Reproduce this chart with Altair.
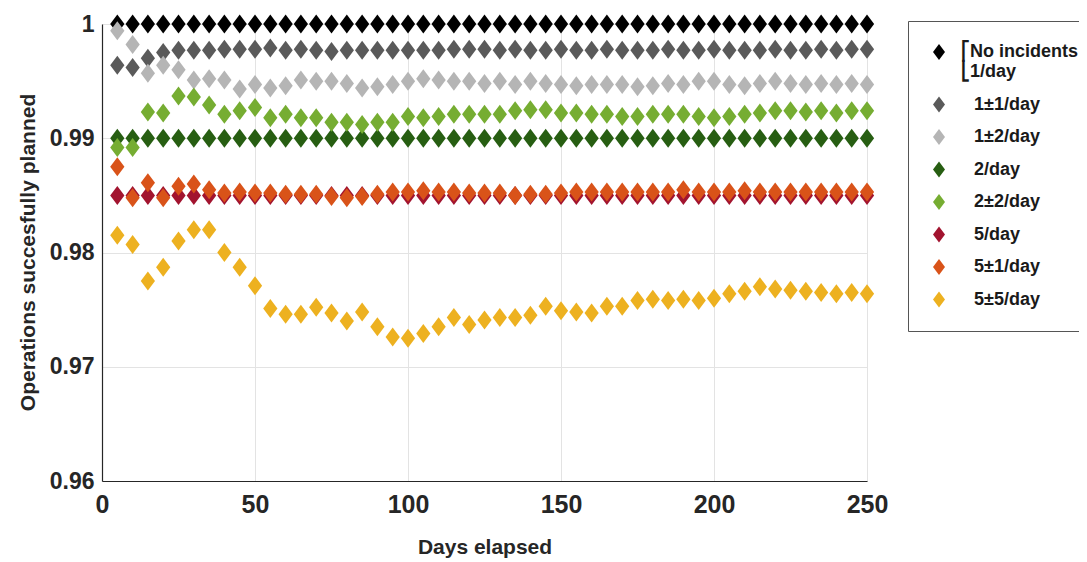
import altair as alt
import pandas as pd

# days elapsed (x) and the success ratio of each incident scenario (y)
days = [5, 10, 15, 20, 25, 30, 35, 40, 45, 50,
        55, 60, 65, 70, 75, 80, 85, 90, 95, 100,
        105, 110, 115, 120, 125, 130, 135, 140, 145, 150,
        155, 160, 165, 170, 175, 180, 185, 190, 195, 200,
        205, 210, 215, 220, 225, 230, 235, 240, 245, 250]

no_incidents = [1.0, 1.0, 1.0, 1.0, 1.0, 1.0, 1.0, 1.0, 1.0, 1.0,
                1.0, 1.0, 1.0, 1.0, 1.0, 1.0, 1.0, 1.0, 1.0, 1.0,
                1.0, 1.0, 1.0, 1.0, 1.0, 1.0, 1.0, 1.0, 1.0, 1.0,
                1.0, 1.0, 1.0, 1.0, 1.0, 1.0, 1.0, 1.0, 1.0, 1.0,
                1.0, 1.0, 1.0, 1.0, 1.0, 1.0, 1.0, 1.0, 1.0, 1.0]
one_pm_one = [0.9964, 0.9962, 0.9970, 0.9975, 0.9977, 0.9977, 0.9977, 0.9978, 0.9978, 0.9978,
              0.9979, 0.9977, 0.9978, 0.9977, 0.9976, 0.9977, 0.9977, 0.9977, 0.9977, 0.9977,
              0.9977, 0.9977, 0.9978, 0.9978, 0.9978, 0.9977, 0.9978, 0.9977, 0.9977, 0.9978,
              0.9977, 0.9977, 0.9978, 0.9977, 0.9977, 0.9977, 0.9978, 0.9977, 0.9977, 0.9978,
              0.9977, 0.9977, 0.9977, 0.9978, 0.9977, 0.9977, 0.9978, 0.9977, 0.9978, 0.9978]
one_pm_two = [0.9994, 0.9982, 0.9957, 0.9964, 0.9960, 0.9951, 0.9952, 0.9951, 0.9943, 0.9947,
              0.9944, 0.9946, 0.9951, 0.9950, 0.9950, 0.9948, 0.9944, 0.9945, 0.9947, 0.9950,
              0.9952, 0.9951, 0.9950, 0.9950, 0.9948, 0.9950, 0.9947, 0.9950, 0.9948, 0.9947,
              0.9946, 0.9947, 0.9947, 0.9947, 0.9945, 0.9946, 0.9948, 0.9947, 0.9950, 0.9950,
              0.9947, 0.9946, 0.9948, 0.9950, 0.9948, 0.9947, 0.9948, 0.9947, 0.9948, 0.9947]
two = [0.990, 0.990, 0.990, 0.990, 0.990, 0.990, 0.990, 0.990, 0.990, 0.990,
       0.990, 0.990, 0.990, 0.990, 0.990, 0.990, 0.990, 0.990, 0.990, 0.990,
       0.990, 0.990, 0.990, 0.990, 0.990, 0.990, 0.990, 0.990, 0.990, 0.990,
       0.990, 0.990, 0.990, 0.990, 0.990, 0.990, 0.990, 0.990, 0.990, 0.990,
       0.990, 0.990, 0.990, 0.990, 0.990, 0.990, 0.990, 0.990, 0.990, 0.990]
two_pm_two = [0.9892, 0.9892, 0.9923, 0.9922, 0.9937, 0.9936, 0.9929, 0.9921, 0.9924, 0.9927,
              0.9918, 0.9921, 0.9918, 0.9918, 0.9914, 0.9914, 0.9912, 0.9914, 0.9914, 0.9919,
              0.9918, 0.9919, 0.9921, 0.9921, 0.9921, 0.9921, 0.9924, 0.9925, 0.9925, 0.9922,
              0.9922, 0.9921, 0.9921, 0.9919, 0.9919, 0.9921, 0.9921, 0.9921, 0.9919, 0.9918,
              0.9919, 0.9921, 0.9922, 0.9924, 0.9924, 0.9923, 0.9924, 0.9922, 0.9924, 0.9924]
five = [0.985, 0.985, 0.985, 0.985, 0.985, 0.985, 0.985, 0.985, 0.985, 0.985,
        0.985, 0.985, 0.985, 0.985, 0.985, 0.985, 0.985, 0.985, 0.985, 0.985,
        0.985, 0.985, 0.985, 0.985, 0.985, 0.985, 0.985, 0.985, 0.985, 0.985,
        0.985, 0.985, 0.985, 0.985, 0.985, 0.985, 0.985, 0.985, 0.985, 0.985,
        0.985, 0.985, 0.985, 0.985, 0.985, 0.985, 0.985, 0.985, 0.985, 0.985]
five_pm_one = [0.9875, 0.9848, 0.9861, 0.9848, 0.9858, 0.9860, 0.9855, 0.9852, 0.9853, 0.9852,
               0.9852, 0.9851, 0.9851, 0.9851, 0.9849, 0.9848, 0.9849, 0.9851, 0.9853, 0.9853,
               0.9854, 0.9853, 0.9853, 0.9852, 0.9852, 0.9852, 0.9850, 0.9851, 0.9851, 0.9852,
               0.9853, 0.9853, 0.9853, 0.9853, 0.9853, 0.9853, 0.9853, 0.9855, 0.9853, 0.9853,
               0.9853, 0.9854, 0.9853, 0.9853, 0.9853, 0.9853, 0.9853, 0.9853, 0.9853, 0.9853]
five_pm_five = [0.9815, 0.9807, 0.9775, 0.9787, 0.9810, 0.9820, 0.9820, 0.9800, 0.9787, 0.9771,
                0.9751, 0.9746, 0.9746, 0.9752, 0.9747, 0.9740, 0.9748, 0.9735, 0.9726, 0.9725,
                0.9729, 0.9735, 0.9743, 0.9737, 0.9741, 0.9743, 0.9743, 0.9745, 0.9753, 0.9749,
                0.9748, 0.9747, 0.9753, 0.9753, 0.9758, 0.9759, 0.9758, 0.9759, 0.9758, 0.9760,
                0.9764, 0.9766, 0.9770, 0.9768, 0.9767, 0.9766, 0.9765, 0.9764, 0.9765, 0.9764]

series_names = ["No incidents 1/day", "1±1/day", "1±2/day", "2/day",
                "2±2/day", "5/day", "5±1/day", "5±5/day"]
series_values = [no_incidents, one_pm_one, one_pm_two, two,
                 two_pm_two, five, five_pm_one, five_pm_five]
series_colors = ["#000000", "#5a5a5a", "#b5b5b5", "#275e12",
                 "#76ad32", "#a2142f", "#d95319", "#edb120"]

# long table, in plotting order so later series sit on top
rows = []
for i, (name, vals) in enumerate(zip(series_names, series_values)):
    for d, v in zip(days, vals):
        rows.append({"day": d, "ratio": v, "series": name, "order": i})
df = pd.DataFrame(rows)

FONT = "Liberation Sans"
DIAMOND = "M0,-1L0.75,0L0,1L-0.75,0Z"  # matlab-style tall diamond

# first entry gets a bracket over two lines, the rest are pushed past the bracket
# with a blank glyph (svg trims plain leading spaces)
legend_labels = ("datum.label == 'No incidents 1/day' ? ['⎡No incidents', '⎣1/day'] "
                 ": '\u2800' + datum.label")

chart = alt.Chart(df).mark_point(filled=True, shape=DIAMOND, size=361, opacity=1).encode(
    x=alt.X("day:Q", title="Days elapsed",
            scale=alt.Scale(domain=[0, 250], nice=False),
            axis=alt.Axis(values=[0, 50, 100, 150, 200, 250], labelFontSize=25,
                          labelFlush=False, labelPadding=11,
                          titleY=55, titleBaseline="top")),
    y=alt.Y("ratio:Q", title="Operations succesfully planned",
            scale=alt.Scale(domain=[0.96, 1.0], nice=False, zero=False),
            axis=alt.Axis(values=[0.96, 0.97, 0.98, 0.99, 1.0], format=".2~f",
                          labelFontSize=23, labelPadding=8,
                          titleAngle=270, titleBaseline="bottom", titleX=-64, titleY=228)),
    color=alt.Color("series:N", title=None,
                    scale=alt.Scale(domain=series_names, range=series_colors),
                    legend=alt.Legend(
                        orient="none", legendX=806, legendY=-3,
                        symbolType=DIAMOND, symbolSize=256, symbolStrokeWidth=0,
                        labelExpr=legend_labels,
                        labelFontSize=18, labelFont=FONT, labelFontWeight="bold",
                        labelColor="#1a1a1a", labelOffset=13, rowPadding=14.5,
                        padding=22, strokeColor="#555555", fillColor="white")),
    order=alt.Order("order:Q"),
).properties(
    width=765,
    height=457,
    autosize="none",
    padding={"left": 94, "top": 16, "right": 212, "bottom": 80},
).configure_axis(
    labelFont=FONT, titleFont=FONT, labelFontWeight="bold", titleFontWeight="bold",
    titleFontSize=21, labelColor="#262626", titleColor="#262626",
    domainColor="#262626", domainWidth=1.2, ticks=False,
    gridColor="#e3e3e3", gridWidth=1,
).configure_view(stroke=None)

chart.save("out.html", embed_options={"renderer": "svg", "actions": False})
